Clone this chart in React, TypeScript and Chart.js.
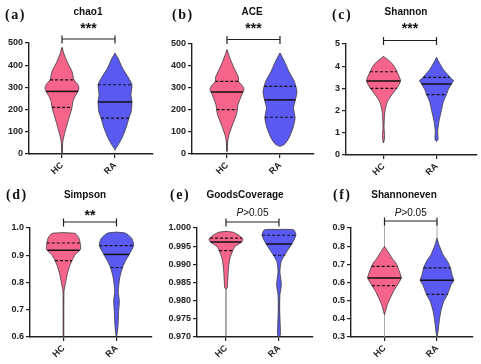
import React, { useEffect, useRef } from "react";
import { Chart, registerables } from "chart.js";

Chart.register(...registerables);

// ---------- data ----------
const groups = ["HC", "RA"];

// (a) chao1 — density profiles (level, relative density)
const chao1HcLevels = [5, 57, 87, 132, 177, 210, 237, 259, 282, 297, 312, 334, 372, 417, 447, 480];
const chao1HcDensity = [0.3, 0.8, 2.3, 5, 8, 10, 11, 13, 16, 17, 16, 12, 10, 5, 2.3, 0];
const chao1RaLevels = [20, 42, 72, 117, 162, 192, 237, 267, 312, 342, 387, 432, 454];
const chao1RaDensity = [0, 3.3, 7, 11, 14, 16.3, 17, 16, 17, 13.7, 7.5, 3, 0];
const chao1HcQuartiles = [210, 282, 334];
const chao1RaQuartiles = [162, 234, 312];
const chao1HcRange = [0, 480];
const chao1RaRange = [15, 454];

// (b) ACE
const aceHcLevels = [14, 59, 89, 134, 180, 225, 270, 292, 307, 330, 350, 395, 440, 474];
const aceHcDensity = [0.3, 0.7, 2, 5.3, 9, 10.5, 14, 16, 15, 11, 10.7, 6.3, 2.5, 0];
const aceRaLevels = [35, 43, 73, 118, 164, 209, 246, 284, 330, 375, 421, 459];
const aceRaDensity = [0, 4, 8.3, 12, 14, 12.5, 14.3, 15.7, 13.3, 8.3, 4.2, 0];
const aceHcQuartiles = [202, 282, 330];
const aceRaQuartiles = [167, 246, 307];
const aceHcRange = [8, 474];
const aceRaRange = [35, 459];

// (c) Shannon
const shannonHcLevels = [0.54, 0.7, 0.92, 1.22, 1.82, 2.12, 2.42, 2.72, 3.02, 3.32, 3.47, 3.75, 4.0, 4.22, 4.44];
const shannonHcDensity = [0, 0.8, 1, 0.5, 1, 2, 4, 8.3, 13.3, 16.7, 16, 13.3, 10.5, 6.2, 0];
const shannonRaLevels = [0.62, 0.69, 1.07, 1.52, 1.97, 2.42, 2.72, 2.94, 3.2, 3.35, 3.47, 3.62, 3.84, 4.14, 4.4];
const shannonRaDensity = [0, 1.5, 1.2, 2.5, 4.7, 7, 10, 11.7, 15, 17, 14, 11.3, 7, 3, 0];
const shannonHcQuartiles = [3.0, 3.33, 3.75];
const shannonRaQuartiles = [2.72, 3.2, 3.5];
const shannonHcRange = [0.54, 4.44];
const shannonRaRange = [0.62, 4.4];

// (d) Simpson
const simpsonHcLevels = [0.6, 0.767, 0.792, 0.829, 0.859, 0.884, 0.902, 0.921, 0.945, 0.964, 0.98, 0.983];
const simpsonHcDensity = [0.3, 0.5, 1.7, 3.7, 6, 9, 11.7, 17, 16.7, 15.3, 11.7, 0];
const simpsonRaLevels = [0.6, 0.608, 0.645, 0.694, 0.731, 0.767, 0.816, 0.853, 0.878, 0.905, 0.933, 0.945, 0.964, 0.981, 0.985];
const simpsonRaDensity = [0, 0.5, 1.5, 2, 2.7, 1.7, 3, 5.5, 8.3, 12.3, 16, 16, 14, 8.5, 0];
const simpsonHcQuartiles = [0.88, 0.918, 0.945];
const simpsonRaQuartiles = [0.855, 0.903, 0.935];
const simpsonHcRange = [0.6, 0.983];
const simpsonRaRange = [0.6, 0.985];

// (e) GoodsCoverage
const goodsHcLevels = [0.9832, 0.9835, 0.9853, 0.989, 0.9917, 0.9937, 0.9949, 0.9961, 0.9969, 0.9978, 0.9988, 0.9991];
const goodsHcDensity = [0, 1.2, 1.7, 2.5, 4, 6.7, 9, 15.5, 17, 14, 7.5, 0];
const goodsRaLevels = [0.97, 0.9706, 0.978, 0.9816, 0.9844, 0.988, 0.9908, 0.9935, 0.9955, 0.9963, 0.9981, 0.9995, 0.9996];
const goodsRaDensity = [0, 1.5, 0.7, 1, 2.5, 1, 2.3, 8.3, 13.3, 15, 17.8, 15.3, 0];
const goodsHcQuartiles = [0.9938, 0.99615, 0.9972];
const goodsRaQuartiles = [0.9925, 0.9956, 0.998];
const goodsHcRange = [0.97, 0.9991];
const goodsRaRange = [0.97, 0.9996];

// (f) Shannoneven
const evenHcLevels = [0.423, 0.441, 0.478, 0.515, 0.552, 0.583, 0.603, 0.625, 0.643, 0.689, 0.707, 0.734, 0.771, 0.799];
const evenHcDensity = [0, 1, 2.8, 5.8, 9, 12.5, 14.7, 16.7, 16, 12.8, 11.3, 7.5, 3.3, 0];
const evenRaLevels = [0.3, 0.328, 0.383, 0.438, 0.493, 0.535, 0.585, 0.612, 0.643, 0.68, 0.716, 0.753, 0.808, 0.845];
const evenRaDensity = [0, 1, 2.2, 3.8, 6.7, 10.8, 14.3, 17.2, 15.3, 13.8, 10.8, 6.2, 2, 0];
const evenHcQuartiles = [0.583, 0.625, 0.689];
const evenRaQuartiles = [0.535, 0.612, 0.68];
const evenHcRange = [0.3, 0.935];
const evenRaRange = [0.3, 0.935];

// axis tick settings: min, max, step, decimals
const chao1Ticks = [0, 500, 100, 0];
const aceTicks = [0, 500, 100, 0];
const shannonTicks = [0, 5, 1, 0];
const simpsonTicks = [0.6, 1.0, 0.1, 1];
const goodsTicks = [0.97, 1.0, 0.005, 3];
const evenTicks = [0.3, 0.9, 0.1, 1];

// ---------- layout / styles ----------
const HC_COLOR = "#F6648C";
const RA_COLOR = "#5A5AF2";
const HALF = 0.32;

type V = { levels: number[]; density: number[]; q: number[]; range: number[] };

const PANELS = [
  { x0: 0, y0: 0, w: 160, h: 180, left: 29, right: 153, top: 43, bottom: 154, xmin: 0.377, xmax: 2.717,
    ticks: chao1Ticks, tag: "(a)", tagX: 5, title: "chao1", titleX: 88, sig: "***", bracketY: 39, whisker: "#444",
    violins: [
      { levels: chao1HcLevels, density: chao1HcDensity, q: chao1HcQuartiles, range: chao1HcRange },
      { levels: chao1RaLevels, density: chao1RaDensity, q: chao1RaQuartiles, range: chao1RaRange },
    ] },
  { x0: 160, y0: 0, w: 160, h: 180, left: 192, right: 314, top: 44, bottom: 154, xmin: 0.34, xmax: 2.642,
    ticks: aceTicks, tag: "(b)", tagX: 172, title: "ACE", titleX: 252, sig: "***", bracketY: 39.5, whisker: "#444",
    violins: [
      { levels: aceHcLevels, density: aceHcDensity, q: aceHcQuartiles, range: aceHcRange },
      { levels: aceRaLevels, density: aceRaDensity, q: aceRaQuartiles, range: aceRaRange },
    ] },
  { x0: 320, y0: 0, w: 161, h: 180, left: 346, right: 477, top: 44, bottom: 155, xmin: 0.292, xmax: 2.764,
    ticks: shannonTicks, tag: "(c)", tagX: 332, title: "Shannon", titleX: 406, sig: "***", bracketY: 40.5, whisker: "#444",
    violins: [
      { levels: shannonHcLevels, density: shannonHcDensity, q: shannonHcQuartiles, range: shannonHcRange },
      { levels: shannonRaLevels, density: shannonRaDensity, q: shannonRaQuartiles, range: shannonRaRange },
    ] },
  { x0: 0, y0: 180, w: 160, h: 184, left: 30, right: 152, top: 228, bottom: 337, xmin: 0.368, xmax: 2.67,
    ticks: simpsonTicks, tag: "(d)", tagX: 6, title: "Simpson", titleX: 85, sig: "**", bracketY: 222, whisker: "#444",
    violins: [
      { levels: simpsonHcLevels, density: simpsonHcDensity, q: simpsonHcQuartiles, range: simpsonHcRange },
      { levels: simpsonRaLevels, density: simpsonRaDensity, q: simpsonRaQuartiles, range: simpsonRaRange },
    ] },
  { x0: 160, y0: 180, w: 160, h: 184, left: 197, right: 313, top: 228, bottom: 337, xmin: 0.453, xmax: 2.642,
    ticks: goodsTicks, tag: "(e)", tagX: 170, title: "GoodsCoverage", titleX: 245, sig: "P", bracketY: 222, whisker: "#444",
    violins: [
      { levels: goodsHcLevels, density: goodsHcDensity, q: goodsHcQuartiles, range: goodsHcRange },
      { levels: goodsRaLevels, density: goodsRaDensity, q: goodsRaQuartiles, range: goodsRaRange },
    ] },
  { x0: 320, y0: 180, w: 161, h: 184, left: 351, right: 473, top: 228, bottom: 337, xmin: 0.362, xmax: 2.686,
    ticks: evenTicks, tag: "(f)", tagX: 333, title: "Shannoneven", titleX: 404, sig: "P", bracketY: 221, whisker: "#a0a0a0",
    violins: [
      { levels: evenHcLevels, density: evenHcDensity, q: evenHcQuartiles, range: evenHcRange },
      { levels: evenRaLevels, density: evenRaDensity, q: evenRaQuartiles, range: evenRaRange },
    ] },
];

function widthAt(levels: number[], hw: number[], y: number) {
  if (y <= levels[0]) return hw[0];
  for (let k = 0; k < levels.length - 1; k++) {
    if (y >= levels[k] && y <= levels[k + 1]) {
      const t = (y - levels[k]) / (levels[k + 1] - levels[k]);
      return hw[k] + t * (hw[k + 1] - hw[k]);
    }
  }
  return hw[hw.length - 1];
}

function buildDatasets(violins: V[], whisker: string) {
  const ds: any[] = [];
  const colors = [HC_COLOR, RA_COLOR];
  violins.forEach((v, i) => {
    const cx = i + 1;
    const maxD = Math.max(...v.density);
    const hw = v.density.map((d) => (d / maxD) * HALF);
    ds.push({
      data: [{ x: cx, y: v.range[0] }, { x: cx, y: v.range[1] }],
      showLine: true, borderColor: whisker, borderWidth: 0.9, pointRadius: 0, order: 3, clip: false,
    });
    const right = v.levels.map((y, k) => ({ x: cx + hw[k], y }));
    const left = v.levels.map((y, k) => ({ x: cx - hw[k], y })).reverse();
    ds.push({
      data: [...right, ...left, right[0]],
      showLine: true, fill: "shape", backgroundColor: colors[i], borderColor: "#3a3a3a",
      borderWidth: 0.8, pointRadius: 0, order: 2, tension: 0.2,
    });
    v.q.forEach((q, k) => {
      const w = widthAt(v.levels, hw, q);
      ds.push({
        data: [{ x: cx - w, y: q }, { x: cx + w, y: q }],
        showLine: true, borderColor: "#111", borderWidth: k === 1 ? 1.5 : 1.2,
        borderDash: k === 1 ? [] : [3, 2], pointRadius: 0, order: 1,
      });
    });
  });
  return ds;
}

const annotPlugin = {
  id: "annot",
  afterDraw(chart: any, _args: any, opts: any) {
    const p = opts.panel;
    const ctx = chart.ctx as CanvasRenderingContext2D;
    const x1 = chart.scales.x.getPixelForValue(1);
    const x2 = chart.scales.x.getPixelForValue(2);
    const mid = (x1 + x2) / 2;
    const rowTop = p.y0;
    ctx.save();
    ctx.fillStyle = "#111";
    // tag
    ctx.font = 'bold 14px "Liberation Serif"';
    (ctx as any).letterSpacing = "1.5px";
    ctx.textAlign = "left";
    ctx.textBaseline = "middle";
    ctx.fillText(p.tag, p.tagX - p.x0, 15);
    (ctx as any).letterSpacing = "0px";
    // title
    ctx.font = 'bold 10px "Liberation Sans"';
    ctx.textAlign = "center";
    ctx.fillText(p.title, p.titleX - p.x0, rowTop ? 15 : 12);
    // significance
    if (p.sig === "P") {
      ctx.font = '10px "Liberation Sans"';
      ctx.textBaseline = "alphabetic";
      const rest = ">0.05";
      const wRest = ctx.measureText(rest).width;
      ctx.font = 'italic 10px "Liberation Sans"';
      const wP = ctx.measureText("P").width;
      const start = mid - (wRest + wP) / 2;
      ctx.textAlign = "left";
      ctx.fillText("P", start, 215.5 - p.y0);
      ctx.font = '10px "Liberation Sans"';
      ctx.fillText(rest, start + wP, 215.5 - p.y0);
    } else {
      ctx.font = 'bold 14px "Liberation Sans"';
      ctx.textBaseline = "alphabetic";
      ctx.textAlign = "center";
      ctx.fillText(p.sig, mid, rowTop ? 219.5 - p.y0 : 32.5);
    }
    // bracket
    const by = p.bracketY - p.y0;
    ctx.strokeStyle = "#222";
    ctx.lineWidth = 1.2;
    ctx.beginPath();
    ctx.moveTo(x1, by);
    ctx.lineTo(x2, by);
    ctx.moveTo(x1, by - 3.5);
    ctx.lineTo(x1, by + 4.5);
    ctx.moveTo(x2, by - 3.5);
    ctx.lineTo(x2, by + 4.5);
    ctx.stroke();
    ctx.restore();
  },
};

function Panel({ p }: { p: any }) {
  const ref = useRef<HTMLCanvasElement | null>(null);
  useEffect(() => {
    if (!ref.current) return;
    const [ymin, ymax, step, dec] = p.ticks;
    const leftW = p.left - p.x0;
    const bottomH = p.y0 + p.h - p.bottom;
    const chart = new Chart(ref.current, {
      type: "scatter",
      data: { datasets: buildDatasets(p.violins, p.whisker) },
      options: {
        responsive: false,
        animation: false,
        devicePixelRatio: 1,
        layout: { padding: { left: 0, right: p.x0 + p.w - p.right, top: p.top - p.y0, bottom: 0 } },
        plugins: { legend: { display: false }, tooltip: { enabled: false }, annot: { panel: p } } as any,
        scales: {
          x: {
            type: "linear",
            min: p.xmin,
            max: p.xmax,
            afterBuildTicks: (s: any) => { s.ticks = [{ value: 1 }, { value: 2 }]; },
            afterFit: (s: any) => { s.height = bottomH; },
            ticks: {
              autoSkip: false,
              minRotation: 45,
              maxRotation: 45,
              padding: 2,
              color: "#222",
              font: { family: "Liberation Sans", size: 9, weight: "bold" },
              callback: (v: any) => groups[Math.round(v) - 1] ?? "",
            },
            grid: { drawOnChartArea: false, drawTicks: true, tickLength: 4, color: "#222", lineWidth: 1.2 },
            border: { display: true, color: "#222", width: 1.4 },
          },
          y: {
            type: "linear",
            min: ymin,
            max: ymax,
            afterFit: (s: any) => { s.width = leftW; },
            ticks: {
              stepSize: step,
              padding: 2,
              color: "#222",
              font: { family: "Liberation Sans", size: 9, weight: "bold" },
              callback: (v: any) => Number(v).toFixed(dec),
            },
            grid: { drawOnChartArea: false, drawTicks: true, tickLength: 4, color: "#222", lineWidth: 1.2 },
            border: { display: true, color: "#222", width: 1.4 },
          },
        },
      } as any,
      plugins: [annotPlugin],
    });
    return () => chart.destroy();
  }, [p]);
  return (
    <canvas
      ref={ref}
      width={p.w}
      height={p.h}
      style={{ position: "absolute", left: p.x0, top: p.y0, width: p.w, height: p.h }}
    />
  );
}

export default function App() {
  return (
    <div style={{ position: "fixed", left: 0, top: 0, width: 481, height: 364, background: "#fff", overflow: "hidden" }}>
      {PANELS.map((p, i) => (
        <Panel key={i} p={p} />
      ))}
    </div>
  );
}
